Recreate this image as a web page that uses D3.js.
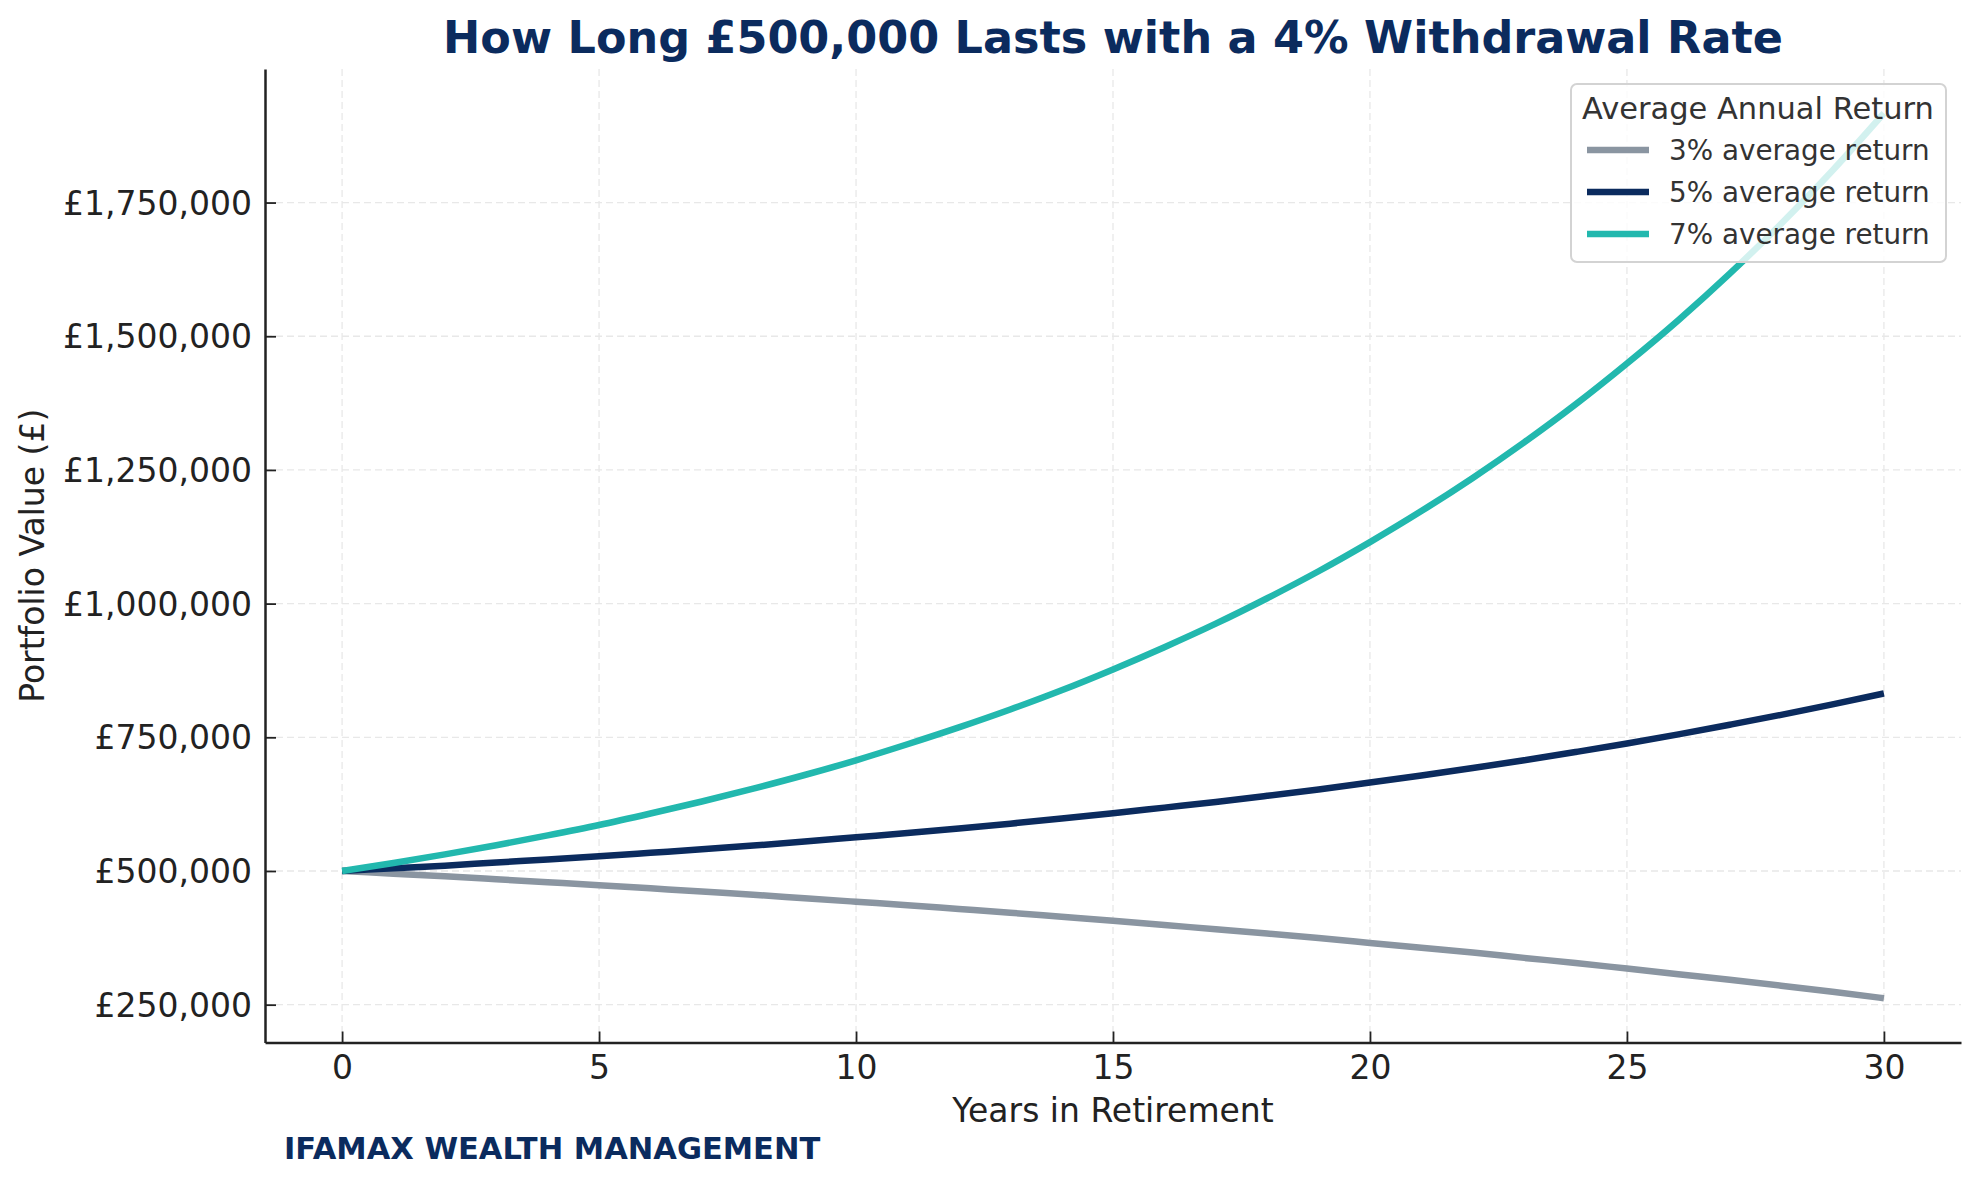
<!DOCTYPE html>
<html>
<head>
<meta charset="utf-8">
<script src="https://cdn.jsdelivr.net/npm/d3@7"></script>
<style>
  body { margin: 0; background: #fff; }
  text { font-family: "DejaVu Sans", sans-serif; }
</style>
</head>
<body>
<svg id="chart" width="1980" height="1185"></svg>
<script>
// years 0..30, portfolio value
const years = d3.range(0, 31);
const return3 = [500000, 495000, 490000, 484500, 479000, 473500, 467500, 461500, 455500, 449000,
	442500, 436000, 429000, 422000, 414500, 407000, 399000, 391000, 383000, 374500,
	365500, 356500, 347500, 337500, 328000, 317500, 307000, 296500, 285500, 274000, 262000];
const return5 = [500000, 505000, 510000, 516000, 521500, 527500, 534000, 540500, 547500, 555000,
	563000, 571000, 579500, 588500, 598000, 608000, 618500, 629000, 640500, 652500,
	665500, 678500, 692500, 707000, 722500, 738500, 755500, 773500, 792000, 811500, 832000];
const return7 = [500000, 515000, 531000, 548000, 566500, 586000, 607500, 630000, 654000, 679500,
	707000, 737000, 768500, 802000, 838000, 877000, 918500, 962500, 1010000, 1060500,
	1115000, 1173000, 1235000, 1301500, 1372500, 1449000, 1530000, 1617000, 1710500, 1810000, 1917000];
const seriesNames = ["3% average return", "5% average return", "7% average return"];
const seriesColors = ["#8a95a1", "#0b2b5e", "#22b8ae"];
const xTicks = [0, 5, 10, 15, 20, 25, 30];
const yTicks = [250000, 500000, 750000, 1000000, 1250000, 1500000, 1750000];

const series = [return3, return5, return7];
let margin = {top: 69, right: 19, bottom: 142.5, left: 265};
let width = 1980, height = 1185;

let x = d3.scaleLinear()
	.domain([-1.5, 31.5])
	.range([margin.left, width - margin.right]);
let yMin = d3.min(return3), yMax = d3.max(return7);
let pad = (yMax - yMin) * 0.05;
let y = d3.scaleLinear()
	.domain([yMin - pad, yMax + pad])
	.range([height - margin.bottom, margin.top]);

let svg = d3.select("#chart");
let fmt = v => "£" + d3.format(",")(v);

// grid
let grid = svg.append("g")
	.attr("stroke", "#e8e8e8")
	.attr("stroke-width", 1.3)
	.attr("stroke-dasharray", "7,4");
grid.selectAll(".gx").data(xTicks).join("line")
	.attr("x1", d => x(d)).attr("x2", d => x(d))
	.attr("y1", margin.top).attr("y2", height - margin.bottom);
grid.selectAll(".gy").data(yTicks).join("line")
	.attr("y1", d => y(d)).attr("y2", d => y(d))
	.attr("x1", margin.left).attr("x2", width - margin.right);

// lines
let line = d3.line()
	.x((d, i) => x(years[i]))
	.y(d => y(d))
	.curve(d3.curveMonotoneX);
svg.append("g")
	.selectAll("path")
	.data(series)
	.join("path")
	.attr("fill", "none")
	.attr("stroke", (d, i) => seriesColors[i])
	.attr("stroke-width", 6.5)
	.attr("stroke-linejoin", "round")
	.attr("d", line);

// axes
let xAxis = svg.append("g")
	.attr("transform", `translate(0,${height - margin.bottom})`)
	.call(d3.axisBottom(x).tickValues(xTicks).tickSizeInner(-11).tickSizeOuter(0).tickPadding(13));
let yAxis = svg.append("g")
	.attr("transform", `translate(${margin.left},0)`)
	.call(d3.axisLeft(y).tickValues(yTicks).tickFormat(fmt).tickSizeInner(-11).tickSizeOuter(0).tickPadding(13));
[xAxis, yAxis].forEach(a => {
	a.select(".domain").attr("stroke", "#222").attr("stroke-width", 2.5);
	a.selectAll(".tick line").attr("stroke", "#222").attr("stroke-width", 1.8);
	a.selectAll(".tick text")
		.attr("font-size", 33)
		.attr("font-family", "DejaVu Sans")
		.attr("fill", "#222");
});
yAxis.selectAll(".tick text").attr("dy", "0.35em");

// labels
svg.append("text")
	.attr("x", (margin.left + width - margin.right) / 2)
	.attr("y", 53)
	.attr("text-anchor", "middle")
	.attr("font-size", 44.5)
	.attr("font-weight", "bold")
	.attr("fill", "#0b2b5e")
	.text("How Long £500,000 Lasts with a 4% Withdrawal Rate");
svg.append("text")
	.attr("x", (margin.left + width - margin.right) / 2)
	.attr("y", 1122)
	.attr("text-anchor", "middle")
	.attr("font-size", 33)
	.attr("fill", "#222")
	.text("Years in Retirement");
svg.append("text")
	.attr("transform", `translate(44,${(margin.top + height - margin.bottom) / 2}) rotate(-90)`)
	.attr("text-anchor", "middle")
	.attr("font-size", 33)
	.attr("fill", "#222")
	.text("Portfolio Value (£)");
svg.append("text")
	.attr("x", 284)
	.attr("y", 1159)
	.attr("font-size", 30.5)
	.attr("font-weight", "bold")
	.attr("fill", "#0b2b5e")
	.text("IFAMAX WEALTH MANAGEMENT");

// legend
let lg = svg.append("g");
lg.append("rect")
	.attr("x", 1571).attr("y", 84)
	.attr("width", 375).attr("height", 178)
	.attr("rx", 6)
	.attr("fill", "#fff").attr("fill-opacity", 0.8)
	.attr("stroke", "#d3d3d3").attr("stroke-width", 2);
lg.append("text")
	.attr("x", 1758).attr("y", 119)
	.attr("text-anchor", "middle")
	.attr("font-size", 30.5)
	.attr("fill", "#333")
	.text("Average Annual Return");
let items = lg.selectAll(".item")
	.data(seriesNames)
	.join("g")
	.attr("transform", (d, i) => `translate(0,${150 + i * 42})`);
items.append("line")
	.attr("x1", 1587).attr("x2", 1649)
	.attr("stroke", (d, i) => seriesColors[i])
	.attr("stroke-width", 6.5);
items.append("text")
	.attr("x", 1669).attr("y", 10)
	.attr("font-size", 27.8)
	.attr("fill", "#333")
	.text(d => d);
</script>
</body>
</html>
